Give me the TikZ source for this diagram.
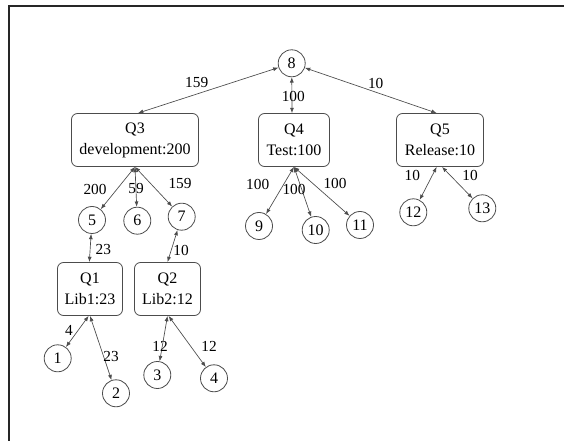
\documentclass[tikz,border=0pt]{standalone}
\usepackage{fontspec}
\setmainfont{Liberation Serif}
\usetikzlibrary{arrows.meta}
\begin{document}
\begin{tikzpicture}[x=0.75pt,y=-0.75pt,
  circ/.style={circle, draw=black!70, line width=0.6pt, minimum size=20.25pt, inner sep=0pt, font=\fontsize{12}{14}\selectfont},
  box/.style={rectangle, rounded corners=4.5pt, draw=black!70, line width=0.6pt, minimum height=39.75pt, align=center, inner sep=0pt, font=\fontsize{12}{15.75}\selectfont},
  lbl/.style={inner sep=0pt, font=\fontsize{11.5}{13}\selectfont},
  conn/.style={draw=black!70, line width=0.5pt, {Latex[length=4pt,width=3pt]}-{Latex[length=4pt,width=3pt]}},
  frame/.style={draw=black!85, line width=1.5pt}]
\useasboundingbox (0,0) rectangle (564,441);
\fill[white] (0,0) rectangle (564,441);
\draw[frame] (9,441) -- (9,6) -- (564,6);
% boxes
\node[box, minimum width=95.25pt] (Q3) at (135,140) {Q3\\development:200};
\node[box, minimum width=53.25pt] (Q4) at (294,140) {Q4\\Test:100};
\node[box, minimum width=65.25pt] (Q5) at (440,140) {Q5\\Release:10};
\node[box, minimum width=48.75pt] (Q1) at (90,289) {Q1\\Lib1:23};
\node[box, minimum width=49.5pt] (Q2) at (167.5,289) {Q2\\Lib2:12};
% circles
\node[circ] (n8) at (291.7,63.3) {8};
\node[circ] (n5) at (92,220) {5};
\node[circ] (n6) at (137.3,220.7) {6};
\node[circ] (n7) at (181.7,216.7) {7};
\node[circ] (n9) at (259,226) {9};
\node[circ] (n10) at (315.7,230) {10};
\node[circ] (n11) at (360,225) {11};
\node[circ] (n12) at (413.3,212.3) {12};
\node[circ] (n13) at (482.3,208.3) {13};
\node[circ] (n1) at (57.7,358.3) {1};
\node[circ] (n2) at (116,393.3) {2};
\node[circ] (n3) at (157.3,375) {3};
\node[circ] (n4) at (214,378.3) {4};
% connectors
\draw[conn] (n8) -- ([xshift=2.25pt]Q3.north);
\draw[conn] (n8) -- ([xshift=-1.5pt]Q4.north);
\draw[conn] (n8) -- ([xshift=-2.5pt]Q5.north);
\draw[conn] (Q3.south) -- (n5);
\draw[conn] (Q3.south) -- (n6);
\draw[conn] (Q3.south) -- (n7);
\draw[conn] (Q4.south) -- (n9);
\draw[conn] (Q4.south) -- (n10);
\draw[conn] (Q4.south) -- (n11);
\draw[conn] ([xshift=-2.5pt]Q5.south) -- (n12);
\draw[conn] ([xshift=1.5pt]Q5.south) -- (n13);
\draw[conn] (n5) -- ([xshift=-0.5pt]Q1.north);
\draw[conn] (n7) -- (Q2.north);
\draw[conn] ([xshift=-1pt]Q1.south) -- (n1);
\draw[conn] (Q1.south) -- (n2);
\draw[conn] (Q2.south) -- (n3);
\draw[conn] ([xshift=0.8pt]Q2.south) -- (n4);
% labels
\node[lbl] (l1) at (196.7,82.7) {159};
\node[lbl] (l2) at (293.3,96.7) {100};
\node[lbl] (l3) at (375.7,83.3) {10};
\node[lbl] (l4) at (95,189.3) {200};
\node[lbl] (l5) at (136,189) {59};
\node[lbl] (l6) at (180,183.3) {159};
\node[lbl] (l7) at (257.7,184) {100};
\node[lbl] (l8) at (294,189.3) {100};
\node[lbl] (l9) at (335,183.3) {100};
\node[lbl] (l10) at (412.3,175.7) {10};
\node[lbl] (l11) at (470,175.7) {10};
\node[lbl] (l12) at (103.3,250) {23};
\node[lbl] (l13) at (181,250) {10};
\node[lbl] (l14) at (69,330) {4};
\node[lbl] (l15) at (111,356) {23};
\node[lbl] (l16) at (160,346.7) {12};
\node[lbl] (l17) at (209,346.7) {12};
\end{tikzpicture}
\end{document}
